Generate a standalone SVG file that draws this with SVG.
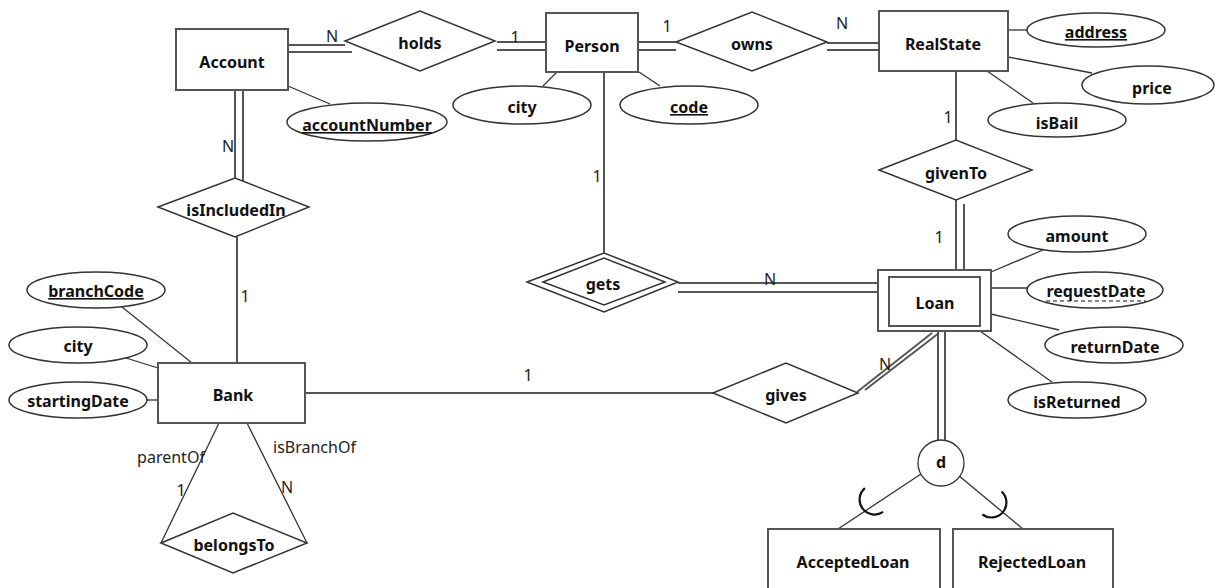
<svg xmlns="http://www.w3.org/2000/svg" width="1215" height="588" viewBox="0 0 1215 588">
<style>
.ent{fill:#fff;stroke:#555;stroke-width:2}
.rel{fill:#fff;stroke:#333;stroke-width:1.5}
.att{fill:#fff;stroke:#333;stroke-width:1.5}
.ln{stroke:#555;stroke-width:2;fill:none}
.thin{stroke:#333;stroke-width:1.3;fill:none}
.arc{stroke:#111;stroke-width:2.2;fill:none}
.t{font-family:"Noto Sans","DejaVu Sans",sans-serif;font-weight:bold;font-size:16px;fill:#111;text-anchor:middle}
.c{font-family:"Noto Sans","DejaVu Sans",sans-serif;font-size:16px;fill:#222;text-anchor:middle}
.u{text-decoration:underline}
</style>
<rect width="1215" height="588" fill="#fff"/>
<g id="connectors">
  <!-- Account - holds -->
  <line class="ln" x1="288" y1="45" x2="345" y2="45"/>
  <line class="ln" x1="288" y1="52" x2="352" y2="52"/>
  <!-- holds - Person -->
  <line class="ln" x1="497" y1="42" x2="546" y2="42"/>
  <line class="ln" x1="497" y1="50" x2="546" y2="50"/>
  <!-- Person - owns -->
  <line class="ln" x1="638" y1="42" x2="676" y2="42"/>
  <line class="ln" x1="638" y1="50" x2="676" y2="50"/>
  <!-- owns - RealState -->
  <line class="ln" x1="827" y1="43" x2="879" y2="43"/>
  <line class="ln" x1="827" y1="50" x2="879" y2="50"/>
  <!-- RealState - givenTo -->
  <line class="ln" x1="956" y1="71" x2="956" y2="140"/>
  <!-- givenTo - Loan -->
  <line class="ln" x1="956" y1="200" x2="956" y2="270"/>
  <line class="ln" x1="964" y1="204" x2="964" y2="270"/>
  <!-- Person - gets -->
  <line class="ln" x1="604" y1="72" x2="604" y2="253"/>
  <!-- gets - Loan -->
  <line class="ln" x1="678" y1="283" x2="878" y2="283"/>
  <line class="ln" x1="678" y1="292" x2="878" y2="292"/>
  <!-- Account - isIncludedIn -->
  <line class="ln" x1="235" y1="90" x2="235" y2="178"/>
  <line class="ln" x1="243" y1="90" x2="243" y2="182"/>
  <!-- isIncludedIn - Bank -->
  <line class="ln" x1="237" y1="237" x2="237" y2="363"/>
  <!-- Bank - gives -->
  <line class="ln" x1="305" y1="393" x2="713" y2="393"/>
  <!-- gives - Loan -->
  <line class="ln" x1="932" y1="333" x2="857" y2="392"/>
  <line class="ln" x1="939" y1="333" x2="865" y2="390"/>
  <!-- Loan - d -->
  <line class="ln" x1="938" y1="331" x2="938" y2="441"/>
  <line class="ln" x1="945" y1="331" x2="945" y2="442"/>
  <!-- d - subclasses -->
  <line class="thin" x1="921" y1="474" x2="838" y2="529"/>
  <line class="thin" x1="958" y1="475" x2="1023" y2="529"/>
  <path class="arc" d="M 864.9 488.1 A 15 15 0 0 0 883.1 511.9"/>
  <path class="arc" d="M 1001.6 491.5 A 15 15 0 0 1 982.4 514.5"/>
  <!-- Bank - belongsTo -->
  <line class="thin" x1="219" y1="423" x2="161" y2="543"/>
  <line class="thin" x1="247" y1="423" x2="307" y2="543"/>
  <!-- attribute links -->
  <line class="thin" x1="288" y1="86" x2="330" y2="104"/>
  <line class="thin" x1="557" y1="72" x2="543" y2="86"/>
  <line class="thin" x1="639" y1="72" x2="660" y2="86"/>
  <line class="thin" x1="1008" y1="30" x2="1027" y2="30"/>
  <line class="thin" x1="1008" y1="57" x2="1092" y2="73"/>
  <line class="thin" x1="987" y1="71" x2="1033" y2="103"/>
  <line class="thin" x1="991" y1="272" x2="1043" y2="250"/>
  <line class="thin" x1="991" y1="288" x2="1027" y2="288"/>
  <line class="thin" x1="991" y1="314" x2="1059" y2="330"/>
  <line class="thin" x1="980" y1="331" x2="1052" y2="382"/>
  <line class="thin" x1="122" y1="307" x2="192" y2="363"/>
  <line class="thin" x1="126" y1="358" x2="158" y2="368"/>
  <line class="thin" x1="147" y1="400" x2="158" y2="400"/>
  <!-- cardinalities -->
  <text class="c" x="332" y="42">N</text>
  <text class="c" x="515" y="43">1</text>
  <text class="c" x="667" y="32">1</text>
  <text class="c" x="842" y="29">N</text>
  <text class="c" x="948" y="123">1</text>
  <text class="c" x="939" y="243">1</text>
  <text class="c" x="770" y="285">N</text>
  <text class="c" x="885" y="370">N</text>
  <text class="c" x="528" y="381">1</text>
  <text class="c" x="597" y="182">1</text>
  <text class="c" x="228" y="152">N</text>
  <text class="c" x="245" y="302">1</text>
  <text class="c" x="171" y="463">parentOf</text>
  <text class="c" x="181" y="496">1</text>
  <text class="c" x="273" y="453" style="text-anchor:start">isBranchOf</text>
  <text class="c" x="287" y="493">N</text>
</g>
<g id="Account"><rect class="ent" x="176" y="29" width="112" height="61"/><text class="t" x="232" y="68">Account</text></g>
<g id="holds"><polygon class="rel" points="345,41 420,11 495,41 420,71"/><text class="t" x="420" y="49">holds</text></g>
<g id="Person"><rect class="ent" x="546" y="13" width="92" height="59"/><text class="t" x="592" y="52">Person</text></g>
<g id="owns"><polygon class="rel" points="676,42 752,12 827,42 752,71"/><text class="t" x="752" y="50">owns</text></g>
<g id="RealState"><rect class="ent" x="879" y="11" width="129" height="60"/><text class="t" x="943" y="50">RealState</text></g>
<g id="address"><ellipse class="att" cx="1096" cy="30" rx="69" ry="17"/><text class="t u" x="1096" y="38">address</text></g>
<g id="price"><ellipse class="att" cx="1148" cy="85" rx="66" ry="19"/><text class="t" x="1152" y="94">price</text></g>
<g id="isBail"><ellipse class="att" cx="1057" cy="120" rx="69" ry="17"/><text class="t" x="1057" y="129">isBail</text></g>
<g id="givenTo"><polygon class="rel" points="879,170 956,140 1032,170 956,200"/><text class="t" x="956" y="179">givenTo</text></g>
<g id="personCity"><ellipse class="att" cx="522" cy="105" rx="69" ry="19"/><text class="t" x="522" y="113">city</text></g>
<g id="code"><ellipse class="att" cx="689" cy="105" rx="69" ry="19"/><text class="t u" x="689" y="113">code</text></g>
<g id="accountNumber"><ellipse class="att" cx="367" cy="122" rx="80" ry="19"/><text class="t u" x="367" y="131">accountNumber</text></g>
<g id="isIncludedIn"><polygon class="rel" points="158,207 235,178 309,207 235,237"/><text class="t" x="236" y="216">isIncludedIn</text></g>
<g id="gets"><polygon class="rel" points="527,282 604,253 678,282 604,312"/><polygon class="rel" points="543,282 604,258 665,282 604,305"/><text class="t" x="603" y="290">gets</text></g>
<g id="Loan"><rect class="ent" x="878" y="270" width="113" height="61"/><rect class="ent" x="889" y="277" width="91" height="49"/><text class="t" x="935" y="309">Loan</text></g>
<g id="amount"><ellipse class="att" cx="1077" cy="234" rx="69" ry="18"/><text class="t" x="1077" y="242">amount</text></g>
<g id="requestDate"><ellipse class="att" cx="1095" cy="290" rx="68" ry="18"/><text class="t" x="1096" y="297">requestDate</text><line x1="1046" y1="301" x2="1146" y2="301" stroke="#111" stroke-width="1.2" stroke-dasharray="4,3"/></g>
<g id="returnDate"><ellipse class="att" cx="1114" cy="345" rx="69" ry="18"/><text class="t" x="1115" y="353">returnDate</text></g>
<g id="isReturned"><ellipse class="att" cx="1077" cy="400" rx="69" ry="18"/><text class="t" x="1077" y="408">isReturned</text></g>
<g id="gives"><polygon class="rel" points="713,393 786,363 858,393 786,423"/><text class="t" x="786" y="401">gives</text></g>
<g id="Bank"><rect class="ent" x="158" y="363" width="147" height="60"/><text class="t" x="233" y="401">Bank</text></g>
<g id="branchCode"><ellipse class="att" cx="96" cy="290" rx="69" ry="18"/><text class="t u" x="96" y="297">branchCode</text></g>
<g id="bankCity"><ellipse class="att" cx="78" cy="345" rx="69" ry="18"/><text class="t" x="78" y="352">city</text></g>
<g id="startingDate"><ellipse class="att" cx="78" cy="400" rx="69" ry="18"/><text class="t" x="78" y="407">startingDate</text></g>
<g id="belongsTo"><polygon class="rel" points="161,543 233,513 307,543 233,573"/><text class="t" x="234" y="551">belongsTo</text></g>
<g id="d"><circle cx="941" cy="463" r="23" fill="#fff" stroke="#333" stroke-width="1.3"/><text class="t" x="941" y="468">d</text></g>
<g id="AcceptedLoan"><rect class="ent" x="768" y="529" width="172" height="70"/><text class="t" x="853" y="568">AcceptedLoan</text></g>
<g id="RejectedLoan"><rect class="ent" x="953" y="529" width="160" height="70"/><text class="t" x="1032" y="568">RejectedLoan</text></g>
</svg>
